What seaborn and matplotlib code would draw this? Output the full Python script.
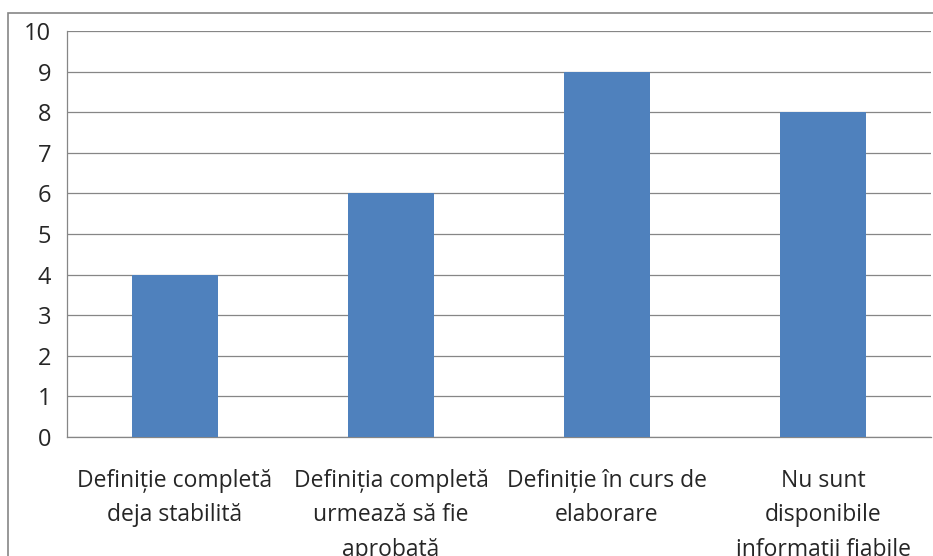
import matplotlib
matplotlib.use("Agg")
import matplotlib.pyplot as plt
import seaborn as sns
import pandas as pd
from matplotlib.patches import Rectangle

# --- Data ---
categories = [
    "Definiție completă\ndeja stabilită",
    "Definiția completă\nurmează să fie\naprobată",
    "Definiție în curs de\nelaborare",
    "Nu sunt\ndisponibile\ninformații fiabile",
]
counts = [4, 6, 9, 8]
y_ticks = list(range(0, 11))

df = pd.DataFrame({"categorie": categories, "numar": counts})

# --- Setup ---
sns.set_style("white")
plt.rcParams["font.family"] = ["Open Sans", "DejaVu Sans"]
grid_color = "#868686"

fig = plt.figure(figsize=(9.33, 5.56), dpi=100)
ax = fig.add_axes([67 / 933, 119 / 556, 864 / 933, 406 / 556])

sns.barplot(data=df, x="categorie", y="numar", color="#4F81BD",
            saturation=1, width=0.4, linewidth=0, ax=ax, zorder=3)

ax.set_ylim(0, 10)
ax.set_xlim(-0.5, len(categories) - 0.5)
ax.set_yticks(y_ticks)
ax.set_yticklabels([str(t) for t in y_ticks], fontsize=17)
ax.yaxis.grid(True, color=grid_color, linewidth=0.9, zorder=0)
ax.set_axisbelow(True)

# category labels centred, tick marks on the boundaries
ax.set_xticks(range(len(categories)))
ax.set_xticklabels(categories, fontsize=16.5, linespacing=1.58)
ax.set_xticks([i - 0.5 for i in range(len(categories) + 1)], minor=True)
ax.tick_params(axis="x", which="major", length=0, pad=23)
ax.tick_params(axis="x", which="minor", length=5.5, color=grid_color, width=0.9)
ax.tick_params(axis="y", length=6.5, color=grid_color, width=0.9, pad=5)

ax.set_xlabel("")
ax.set_ylabel("")
for side in ["top", "right"]:
    ax.spines[side].set_visible(False)
for side in ["left", "bottom"]:
    ax.spines[side].set_color(grid_color)
    ax.spines[side].set_linewidth(0.9)

# outer chart border
fig.patches.append(Rectangle((8 / 933, -0.1), 1.5, 1.1 - 13 / 556,
                             transform=fig.transFigure, fill=False,
                             edgecolor=grid_color, linewidth=1.2))

fig.savefig("out.png", dpi=100)
